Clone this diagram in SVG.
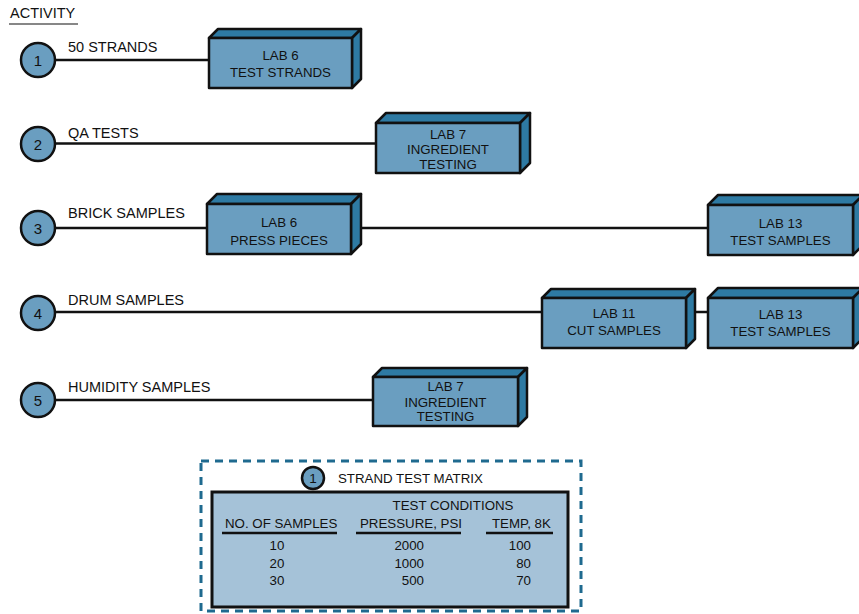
<svg xmlns="http://www.w3.org/2000/svg" width="859" height="614" viewBox="0 0 859 614">
<style>
text{font-family:"Liberation Sans",Arial,sans-serif;fill:#111}
.lbl{font-size:14.5px}
.bt{font-size:13.3px;text-anchor:middle}
.num{font-size:15px;text-anchor:middle}
.front{fill:#6a9ec0;stroke:#111;stroke-width:2.5;stroke-linejoin:round}
.dark{fill:#2e7aa3;stroke:#111;stroke-width:2.5;stroke-linejoin:round}
.circ{fill:#6a9ec0;stroke:#111;stroke-width:2.5}
.conn line{stroke:#111;stroke-width:2.5}
.tt{font-size:13.3px}
.ul{stroke:#111;stroke-width:2.5}
</style>
<g id="title">
<text x="10" y="18" class="lbl">ACTIVITY</text>
<line x1="9" y1="24" x2="78" y2="24" stroke="#111" stroke-width="1.2"/>
</g>
<g class="conn" id="connectors">
<line x1="56" y1="60" x2="209" y2="60"/>
<line x1="56" y1="143.5" x2="376" y2="143.5"/>
<line x1="56" y1="228" x2="207" y2="228"/>
<line x1="361" y1="228" x2="708" y2="228"/>
<line x1="56" y1="312" x2="542" y2="312"/>
<line x1="694" y1="312" x2="708" y2="312"/>
<line x1="56" y1="400" x2="373" y2="400"/>
</g>
<g id="a1"><circle cx="38" cy="60" r="17" class="circ"/><text x="38" y="65.5" class="num">1</text><text x="68" y="52" class="lbl">50 STRANDS</text></g>
<g id="a2"><circle cx="38" cy="144" r="17" class="circ"/><text x="38" y="149.5" class="num">2</text><text x="68" y="138" class="lbl">QA TESTS</text></g>
<g id="a3"><circle cx="38" cy="228" r="17" class="circ"/><text x="38" y="233.5" class="num">3</text><text x="68" y="218" class="lbl">BRICK SAMPLES</text></g>
<g id="a4"><circle cx="38" cy="313" r="17" class="circ"/><text x="38" y="318.5" class="num">4</text><text x="68" y="305" class="lbl">DRUM SAMPLES</text></g>
<g id="a5"><circle cx="38" cy="400" r="17" class="circ"/><text x="38" y="405.5" class="num">5</text><text x="68" y="392" class="lbl">HUMIDITY SAMPLES</text></g>

<g id="lab6a">
<polygon class="dark" points="209,38 218,29 361,29 352,38"/>
<polygon class="dark" points="352,38 361,29 361,79 352,88"/>
<rect class="front" x="209" y="38" width="143" height="50"/>
<text x="280.5" y="60" class="bt">LAB 6</text><text x="280.5" y="77" class="bt">TEST STRANDS</text>
</g>
<g id="lab7a">
<polygon class="dark" points="376,123 386,113 530,113 520,123"/>
<polygon class="dark" points="520,123 530,113 530,163 520,173"/>
<rect class="front" x="376" y="123" width="144" height="50"/>
<text x="448" y="139" class="bt">LAB 7</text><text x="448" y="154" class="bt">INGREDIENT</text><text x="448" y="169" class="bt">TESTING</text>
</g>
<g id="lab6b">
<polygon class="dark" points="207,204 217,194 361,194 351,204"/>
<polygon class="dark" points="351,204 361,194 361,244 351,254"/>
<rect class="front" x="207" y="204" width="144" height="50"/>
<text x="279" y="227" class="bt">LAB 6</text><text x="279" y="245" class="bt">PRESS PIECES</text>
</g>
<g id="lab13a">
<polygon class="dark" points="708,205 718,195 863,195 853,205"/>
<polygon class="dark" points="853,205 863,195 863,245 853,255"/>
<rect class="front" x="708" y="205" width="145" height="50"/>
<text x="780.5" y="228" class="bt">LAB 13</text><text x="780.5" y="245" class="bt">TEST SAMPLES</text>
</g>
<g id="lab11">
<polygon class="dark" points="542,298 551,289 695,289 686,298"/>
<polygon class="dark" points="686,298 695,289 695,339 686,348"/>
<rect class="front" x="542" y="298" width="144" height="50"/>
<text x="614" y="318" class="bt">LAB 11</text><text x="614" y="335" class="bt">CUT SAMPLES</text>
</g>
<g id="lab13b">
<polygon class="dark" points="708,298 718,288 863,288 853,298"/>
<polygon class="dark" points="853,298 863,288 863,338 853,348"/>
<rect class="front" x="708" y="298" width="145" height="50"/>
<text x="780.5" y="319" class="bt">LAB 13</text><text x="780.5" y="336" class="bt">TEST SAMPLES</text>
</g>
<g id="lab7b">
<polygon class="dark" points="373,377 382,368 527,368 518,377"/>
<polygon class="dark" points="518,377 527,368 527,417 518,426"/>
<rect class="front" x="373" y="377" width="145" height="49"/>
<text x="445.5" y="391" class="bt">LAB 7</text><text x="445.5" y="407" class="bt">INGREDIENT</text><text x="445.5" y="421" class="bt">TESTING</text>
</g>

<g id="matrix">
<rect x="201" y="461" width="380" height="150" fill="none" stroke="#1f6a8f" stroke-width="3" stroke-dasharray="8,6"/>
<circle cx="313" cy="478" r="11" class="circ"/><text x="313" y="483" class="num" style="font-size:13.5px">1</text>
<text x="338" y="483" class="tt">STRAND TEST MATRIX</text>
<rect x="212" y="492" width="356" height="115" fill="#a5c2d8" stroke="#111" stroke-width="3"/>
<text x="453" y="510" class="tt" text-anchor="middle">TEST CONDITIONS</text>
<text x="225" y="528" class="tt">NO. OF SAMPLES</text>
<text x="360" y="528" class="tt">PRESSURE, PSI</text>
<text x="492" y="528" class="tt">TEMP, 8K</text>
<line x1="222" y1="533" x2="337" y2="533" class="ul"/>
<line x1="356" y1="533" x2="461" y2="533" class="ul"/>
<line x1="486" y1="533" x2="553" y2="533" class="ul"/>
<g class="tt" text-anchor="middle">
<text x="277" y="550">10</text><text x="277" y="568">20</text><text x="277" y="585">30</text>
</g>
<g class="tt" text-anchor="end">
<text x="424" y="550">2000</text><text x="424" y="568">1000</text><text x="424" y="585">500</text>
<text x="531" y="550">100</text><text x="531" y="568">80</text><text x="531" y="585">70</text>
</g>
</g>
</svg>
